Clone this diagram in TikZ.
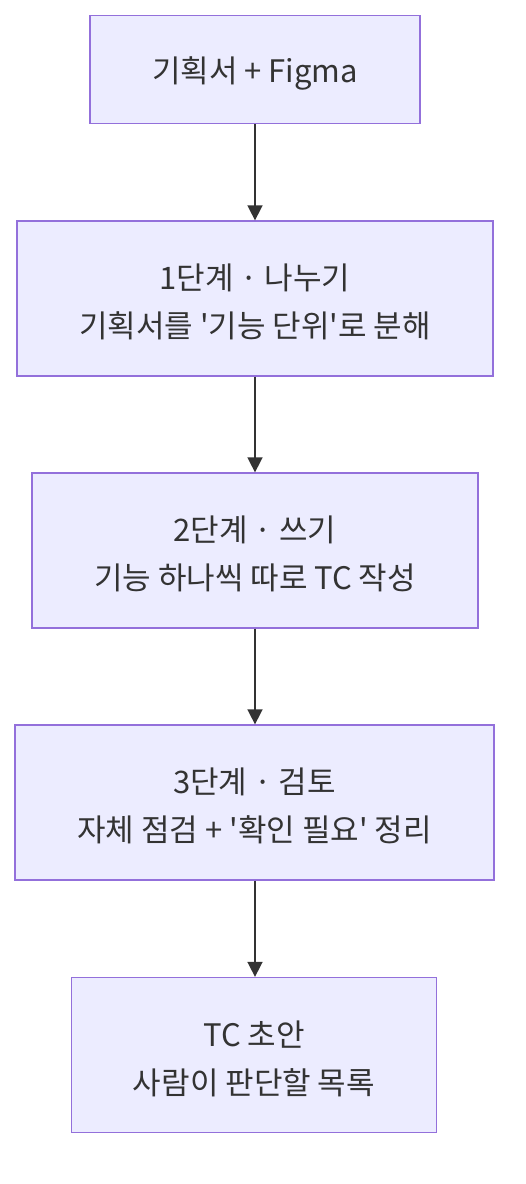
\documentclass[tikz,border=0pt]{standalone}
\usepackage{fontspec}
\setmainfont{Noto Sans CJK KR}
\usetikzlibrary{arrows.meta}
\definecolor{boxfill}{HTML}{ECECFF}
\definecolor{boxline}{HTML}{9370DB}
\definecolor{txt}{HTML}{333333}
\newcommand{\sq}{\textquotesingle}
\tikzset{
  stepbox/.style={draw=boxline, fill=boxfill, line width=1.3pt, rectangle, inner sep=0pt},
  steptext/.style={inner sep=0pt, align=center, text=txt, yshift=-3.5pt, font=\fontsize{31}{48}\selectfont},
  flow/.style={draw=txt, line width=1.6pt, -{Triangle[length=15pt,width=15pt]}}
}
\begin{document}
\begin{tikzpicture}[x=1pt,y=-1pt]
\useasboundingbox (0,0) rectangle (526,1184);
\node[stepbox, minimum width=330pt, minimum height=108pt] (n0) at (255,69.5) {};
\node[stepbox, minimum width=476pt, minimum height=155pt] (n1) at (255,298.5) {};
\node[stepbox, minimum width=446pt, minimum height=155pt] (n2) at (255,550.5) {};
\node[stepbox, minimum width=479pt, minimum height=155pt] (n3) at (254.5,802.5) {};
\node[stepbox, minimum width=365pt, minimum height=155pt] (n4) at (254,1055) {};
\node[steptext] (t0) at (n0.center) {기획서 + Figma};
\node[steptext] (t1) at (n1.center) {1단계 · 나누기\\기획서를 \sq 기능 단위\sq 로 분해};
\node[steptext] (t2) at (n2.center) {2단계 · 쓰기\\기능 하나씩 따로 TC 작성};
\node[steptext] (t3) at (n3.center) {3단계 · 검토\\자체 점검 + \sq 확인 필요\sq{} 정리};
\node[steptext] (t4) at (n4.center) {TC 초안\\사람이 판단할 목록};
\draw[flow] (n0.south -| 255,0) -- (n1.north -| 255,0);
\draw[flow] (n1.south -| 255,0) -- (n2.north -| 255,0);
\draw[flow] (n2.south -| 255,0) -- (n3.north -| 255,0);
\draw[flow] (n3.south -| 255,0) -- (n4.north -| 255,0);
\end{tikzpicture}
\end{document}
